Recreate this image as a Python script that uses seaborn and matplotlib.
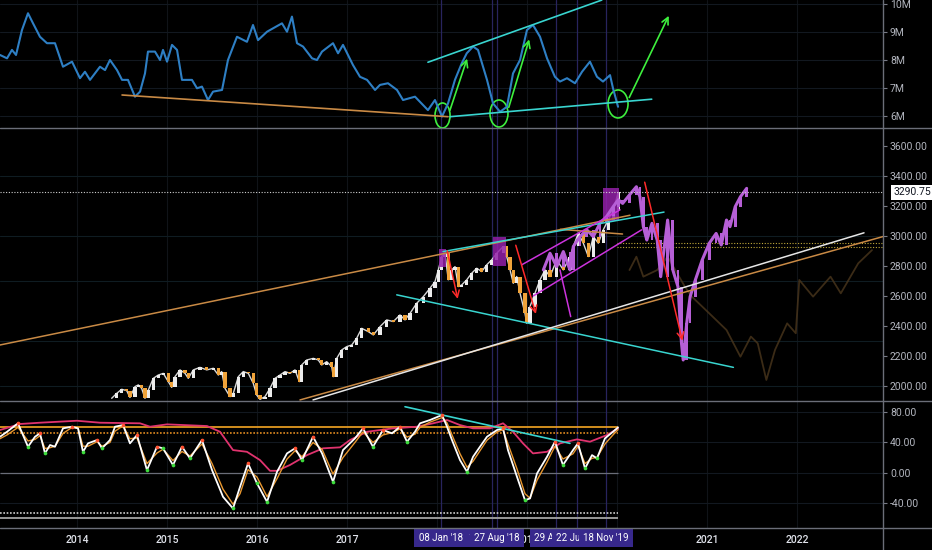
import numpy as np
import matplotlib
matplotlib.use("Agg")
import matplotlib.pyplot as plt
from matplotlib.lines import Line2D
from matplotlib.patches import Ellipse, Rectangle
import seaborn as sns

# ---------------- values ----------------
# top pane: blue line (millions)
vol_years = [2013.144, 2013.222, 2013.277, 2013.322, 2013.388, 2013.455, 2013.511, 2013.588, 2013.666, 2013.755,
             2013.844, 2013.944, 2014.033, 2014.088, 2014.144, 2014.255, 2014.311, 2014.366, 2014.444, 2014.500,
             2014.566, 2014.644, 2014.700, 2014.755, 2014.788, 2014.866, 2014.922, 2014.955, 2015.000, 2015.055,
             2015.111, 2015.166, 2015.277, 2015.333, 2015.388, 2015.455, 2015.511, 2015.611, 2015.677, 2015.777,
             2015.888, 2015.955, 2016.011, 2016.111, 2016.177, 2016.277, 2016.333, 2016.388, 2016.444, 2016.511,
             2016.611, 2016.666, 2016.722, 2016.844, 2016.900, 2016.955, 2017.066, 2017.144, 2017.222, 2017.311,
             2017.366, 2017.455, 2017.555, 2017.622, 2017.755, 2017.899, 2017.977, 2018.055, 2018.122, 2018.199,
             2018.274, 2018.330, 2018.400, 2018.455, 2018.555, 2018.622, 2018.700, 2018.777, 2018.844, 2018.922,
             2018.999, 2019.066, 2019.144, 2019.222, 2019.310, 2019.366, 2019.444, 2019.533, 2019.611, 2019.699,
             2019.777, 2019.844, 2019.922, 2019.955, 2020.011]
vol_values = [8.18, 8.06, 8.36, 8.18, 9.07, 9.67, 9.31, 8.83, 8.6, 8.6,
              7.76, 7.94, 7.35, 7.58, 7.29, 7.76, 7.64, 8.0, 7.64, 7.29,
              7.29, 6.69, 6.87, 7.52, 8.3, 8.3, 8.0, 8.36, 7.94, 8.54,
              8.36, 7.29, 7.29, 6.99, 7.05, 6.57, 6.87, 6.93, 8.0, 8.83,
              8.65, 9.25, 8.71, 9.01, 9.13, 9.31, 9.01, 9.55, 8.6, 8.48,
              8.06, 8.0, 8.3, 8.6, 8.24, 8.54, 7.82, 7.4, 7.29, 6.93,
              7.11, 7.17, 6.93, 6.57, 6.69, 6.21, 6.57, 5.98, 6.45, 7.29,
              7.88, 8.24, 8.48, 8.36, 7.29, 6.45, 6.15, 6.33, 7.52, 8.0,
              9.07, 9.25, 8.83, 8.06, 7.4, 7.23, 7.35, 7.17, 7.58, 7.94,
              7.4, 7.23, 7.46, 6.99, 6.33]
vol_ticks = [6, 7, 8, 9, 10]

# middle pane: candle closes
price_years = [2014.385, 2014.441, 2014.496, 2014.552, 2014.588, 2014.644, 2014.681, 2014.718, 2014.755, 2014.792,
               2014.847, 2014.903, 2014.958, 2015.014, 2015.052, 2015.088, 2015.144, 2015.200, 2015.236, 2015.292,
               2015.366, 2015.441, 2015.514, 2015.570, 2015.607, 2015.644, 2015.700, 2015.736, 2015.792, 2015.847,
               2015.903, 2015.958, 2015.996, 2016.033, 2016.088, 2016.144, 2016.200, 2016.255, 2016.311, 2016.366,
               2016.422, 2016.470, 2016.496, 2016.552, 2016.625, 2016.681, 2016.718, 2016.774, 2016.830, 2016.847,
               2016.885, 2016.941, 2016.996, 2017.052, 2017.107, 2017.163, 2017.236, 2017.292, 2017.366, 2017.441,
               2017.514, 2017.588, 2017.644, 2017.700, 2017.774, 2017.847, 2017.922, 2017.977, 2018.014, 2018.052,
               2018.088, 2018.125, 2018.163, 2018.200, 2018.236, 2018.274, 2018.330, 2018.385, 2018.441, 2018.496,
               2018.552, 2018.607, 2018.663, 2018.736, 2018.774, 2018.811, 2018.847, 2018.885, 2018.922, 2018.977,
               2018.996, 2019.033, 2019.088, 2019.144, 2019.200, 2019.255, 2019.330, 2019.403, 2019.477, 2019.514,
               2019.570, 2019.625, 2019.681, 2019.736, 2019.792, 2019.847, 2019.903, 2019.958, 2020.014]
price_close = [1918, 1951, 1978, 1969, 1924, 1996, 2007, 1984, 1918, 1973,
               2051, 2073, 2084, 2029, 1991, 2062, 2107, 2084, 2051, 2107,
               2124, 2107, 2118, 2073, 2096, 1984, 1929, 1951, 2062, 2096,
               2084, 2018, 1940, 1911, 1929, 1984, 2051, 2073, 2096, 2084,
               2107, 2029, 2140, 2173, 2184, 2173, 2140, 2162, 2129, 2062,
               2184, 2240, 2262, 2273, 2318, 2384, 2362, 2340, 2395, 2440,
               2429, 2473, 2440, 2484, 2551, 2595, 2651, 2695, 2773, 2862,
               2884, 2707, 2773, 2795, 2662, 2673, 2707, 2751, 2784, 2762,
               2807, 2840, 2884, 2929, 2862, 2773, 2684, 2729, 2618, 2484,
               2418, 2529, 2618, 2707, 2773, 2729, 2840, 2773, 2862, 2929,
               3018, 2951, 2862, 2995, 2951, 3040, 3107, 3173, 3291]
last_price = 3290.75
price_ticks = [2000, 2200, 2400, 2600, 2800, 3000, 3200, 3400, 3600]

# purple projected path
proj_years = [2019.181, 2019.255, 2019.330, 2019.403, 2019.477, 2019.514, 2019.588, 2019.663, 2019.736, 2019.811,
              2019.885, 2019.958, 2020.014, 2020.062, 2020.138, 2020.215, 2020.254, 2020.292, 2020.331, 2020.388,
              2020.446, 2020.485, 2020.562, 2020.620, 2020.677, 2020.716, 2020.735, 2020.774, 2020.812, 2020.870,
              2020.946, 2021.024, 2021.101, 2021.158, 2021.216, 2021.255, 2021.313, 2021.371, 2021.440]
proj_close = [2773, 2884, 2795, 2895, 2773, 2929, 2995, 3040, 2995, 3084,
              3129, 3195, 3240, 3216, 3272, 3327, 3260, 3061, 2972, 3083,
              2972, 2728, 3105, 2772, 2661, 2284, 2173, 2417, 2595, 2706,
              2839, 2950, 3016, 2939, 3105, 3061, 3194, 3260, 3316]

# faint orange ghost path
ghost_years = [2020.138, 2020.215, 2020.292, 2020.446, 2020.562, 2020.754, 2020.831, 2021.024, 2021.216, 2021.371,
               2021.487, 2021.563, 2021.659, 2021.755, 2021.890, 2021.986, 2022.025, 2022.178, 2022.372, 2022.486,
               2022.680, 2022.833]
ghost_close = [2772, 2861, 2728, 2772, 2861, 2661, 2595, 2484, 2373, 2195,
               2329, 2284, 2040, 2240, 2417, 2351, 2706, 2595, 2728, 2617,
               2817, 2905]

# bottom pane: oscillator
osc_years = [2013.144, 2013.222, 2013.344, 2013.455, 2013.533, 2013.588, 2013.644, 2013.700, 2013.755, 2013.844,
             2013.944, 2014.011, 2014.066, 2014.122, 2014.222, 2014.277, 2014.366, 2014.422, 2014.511, 2014.588,
             2014.666, 2014.777, 2014.888, 2014.955, 2015.066, 2015.166, 2015.255, 2015.388, 2015.500, 2015.622,
             2015.733, 2015.811, 2015.900, 2016.000, 2016.111, 2016.222, 2016.333, 2016.422, 2016.500, 2016.622,
             2016.722, 2016.844, 2016.955, 2017.088, 2017.177, 2017.288, 2017.400, 2017.500, 2017.588, 2017.666,
             2017.755, 2017.811, 2017.922, 2018.055, 2018.111, 2018.166, 2018.255, 2018.333, 2018.400, 2018.477,
             2018.555, 2018.666, 2018.733, 2018.788, 2018.888, 2018.977, 2019.033, 2019.111, 2019.222, 2019.310,
             2019.399, 2019.511, 2019.566, 2019.644, 2019.722, 2019.777, 2019.866, 2019.955, 2020.011]
osc_fast = [47.6, 54.2, 65.4, 34.3, 47.6, 52.1, 25.5, 36.6, 34.3, 58.7,
            60.9, 58.7, 27.6, 38.8, 43.2, 32.2, 43.2, 60.9, 63.1, 38.8,
            49.8, 3.3, 34.3, 32.2, 10.1, 34.3, 18.9, 43.2, 3.3, -32.1,
            -47.6, -18.9, 12.2, -14.4, -38.8, 1.1, 25.5, 32.2, 16.6, 47.6,
            25.5, -12.2, 29.9, 45.4, 58.7, 34.3, 56.5, 52.1, 60.9, 41.0,
            54.2, 65.4, 69.8, 76.4, 60.9, 43.2, 16.6, 1.1, 21.0, 34.3,
            47.6, 56.5, 58.7, 29.9, -5.5, -36.6, -34.3, -1.1, 21.0, 41.0,
            10.1, 29.9, 38.8, 5.5, 23.2, 18.9, 45.4, 54.2, 60.0]
osc_slow = [45, 50, 60, 42, 44, 49, 32, 33, 35, 52,
            60, 59, 35, 35, 41, 35, 40, 55, 62, 45,
            46, 12, 26, 31, 16, 28, 22, 38, 12, -22,
            -42, -28, 4, -6, -32, -8, 18, 29, 21, 40,
            31, -2, 20, 40, 54, 40, 50, 53, 58, 47,
            51, 60, 67, 73, 66, 50, 25, 7, 15, 29,
            43, 54, 57, 38, 5, -28, -34, -10, 14, 35,
            18, 25, 35, 12, 19, 20, 38, 50, 57]
ma_years = [2013.144, 2013.366, 2013.588, 2013.999, 2014.255, 2014.700, 2014.811, 2015.000, 2015.444, 2015.588,
            2015.733, 2015.888, 2016.033, 2016.144, 2016.222, 2016.366, 2016.555, 2016.733, 2016.922, 2017.033,
            2017.222, 2017.511, 2017.777, 2017.955, 2018.111, 2018.255, 2018.400, 2018.588, 2018.733, 2018.844,
            2018.955, 2019.066, 2019.222, 2019.366, 2019.555, 2019.699, 2019.888, 2020.011]
ma_values = [56.5, 64.5, 66.2, 68.8, 66.2, 65.4, 60.9, 64.0, 61.8, 54.2,
             29.9, 27.6, 16.6, 2.4, 2.4, 10.1, 23.2, 32.2, 33.5, 43.2,
             54.2, 58.7, 60.9, 65.4, 69.8, 63.1, 58.7, 58.7, 65.4, 54.2,
             38.8, 25.5, 27.6, 38.8, 44.1, 41.0, 49.8, 58.7]
low_dots = [3, 6, 12, 15, 21, 23, 24, 26, 30, 33, 34, 38, 41, 45, 49, 57, 65, 70, 73, 75]
high_dots = [2, 5, 10, 14, 18, 20, 22, 25, 27, 32, 37, 39, 44, 46, 48, 53, 62, 69, 72]
osc_ticks = [-40, 0, 40, 80]

# marked dates
mark_years = [2018.041, 2018.607, 2018.663, 2019.322, 2019.552, 2019.877]
mark_labels = ["08 Jan '18", "13 Aug '18", "27 Aug '18", "29 Apr '19", "22 Jul '19", "18 Nov '19"]
year_ticks = [2014, 2015, 2016, 2017, 2018, 2019, 2020, 2021, 2022]

# drawn lines: ((year0, value0), (year1, value1))
top_lines = {"#c98a45": [((2014.500, 6.75), (2018.122, 5.975))],
             "#39d5d0": [((2018.144, 5.975), (2020.385, 6.6)), ((2017.899, 7.92), (2019.830, 10.14))]}
top_arrows = [((2018.133, 6.107), (2018.344, 8.143)),
              ((2018.788, 6.214), (2019.033, 8.83)),
              ((2020.122, 6.571), (2020.588, 9.668))]
top_circles = [(2018.061, 6.018, 0.167, 0.893), (2018.688, 6.089, 0.2, 0.964), (2020.011, 6.43, 0.222, 1.0)]

mid_lines = {"#c98a45": [((2013.144, 2273), (2020.144, 3137)), ((2016.477, 1907), (2022.955, 2995)),
                         ((2019.368, 3043), (2020.061, 3012))],
             "#39d5d0": [((2018.066, 2895), (2020.522, 3158)), ((2017.552, 2607), (2021.293, 2124))],
             "#e6e6e6": [((2016.622, 1907), (2022.744, 3020))],
             "#cc33dd": [((2018.941, 2807), (2020.033, 3173)), ((2019.070, 2600), (2020.273, 3040)),
                         ((2019.366, 2773), (2019.485, 2462))]}
mid_boxes = [(2018.022, 2018.100, 2795, 2913), (2018.618, 2018.766, 2800, 2991), (2019.844, 2020.022, 3100, 3318)]
mid_arrows = [((2018.107, 2918), (2018.236, 2562)),
              ((2018.866, 2955), (2019.107, 2462)),
              ((2020.300, 3375), (2020.733, 2284))]
mid_levels = [2954, 2923]
osc_trend = ((2017.644, 87.4), (2019.477, 38.8))

# ---------------- drawing ----------------
sns.set_theme(style="dark", rc={"axes.facecolor": "black", "figure.facecolor": "black"})
plt.rcParams["font.family"] = ["Roboto", "DejaVu Sans"]

W, H = 932, 550
X0, X1 = 2013.144, 2022.955
fig = plt.figure(figsize=(W / 100, H / 100), dpi=100)


def panel(top, bottom):
    return fig.add_axes([0, 1 - bottom / H, 883 / W, (bottom - top) / H])


ax1 = panel(0, 127.7)
ax2 = panel(127.7, 400.7)
ax3 = panel(400.7, 528.3)

for ax in (ax1, ax2, ax3):
    ax.set_facecolor("black")
    for s in ax.spines.values():
        s.set_visible(False)
    for y in year_ticks:
        ax.axvline(y, color="#101318", lw=0.8, zorder=0)
    for d in mark_years:
        ax.axvline(d, color="#28245e", lw=0.9, zorder=0.5)

# top pane
for v in vol_ticks:
    ax1.axhline(v, color="#121820", lw=0.8, zorder=0)
sns.lineplot(x=vol_years, y=vol_values, ax=ax1, color="#2e7fc4", linewidth=1.5)
for col, segs in top_lines.items():
    for (a, b) in segs:
        ax1.plot([a[0], b[0]], [a[1], b[1]], color=col, lw=1.2)
for (a, b) in top_arrows:
    ax1.annotate("", xy=b, xytext=a, arrowprops=dict(arrowstyle="->", color="#3ef03e", lw=1.2,
                                                      mutation_scale=12))
for (cx, cy, w, h) in top_circles:
    ax1.add_patch(Ellipse((cx, cy), w, h, fill=False, ec="#3ef03e", lw=1.2))
ax1.set_ylim(5.582, 10.143)
ax1.set_yticks(vol_ticks)
ax1.set_yticklabels([f"{v}M" for v in vol_ticks])

# middle pane
for p in [2000, 2300, 2700, 3000, 3400]:
    ax2.axhline(p, color="#0f1c22", lw=0.8, zorder=0)
opens = np.r_[price_close[0], price_close[:-1]]
closes = np.array(price_close)
colors = ["#ececec" if c >= o else "#f0a33a" for o, c in zip(opens, closes)]
sns.lineplot(x=price_years, y=price_close, ax=ax2, color="#d8d8d8", linewidth=1.0, zorder=2.5)
ax2.bar(price_years, closes - opens, bottom=opens, width=0.038, color=colors, edgecolor="none",
        linewidth=0, zorder=3)

ax2.plot(ghost_years, ghost_close, color="#4a361c", lw=1.3, alpha=0.8, zorder=2)
p_open = np.r_[proj_close[0], proj_close[:-1]]
sns.lineplot(x=proj_years, y=proj_close, ax=ax2, color="#b65fd6", linewidth=2.2, zorder=4)
ax2.bar(proj_years, np.array(proj_close) - p_open, bottom=p_open, width=0.03, color="#b65fd6",
        edgecolor="none", linewidth=0, zorder=4)

for (x0, x1, y0, y1) in mid_boxes:
    ax2.add_patch(Rectangle((x0, y0), x1 - x0, y1 - y0, color="#9320a8", alpha=0.85, zorder=3.5, lw=0))
for col, segs in mid_lines.items():
    for (a, b) in segs:
        ax2.plot([a[0], b[0]], [a[1], b[1]], color=col, lw=1.1, zorder=5)
for (a, b) in mid_arrows:
    ax2.annotate("", xy=b, xytext=a, arrowprops=dict(arrowstyle="->", color="#ff2a2a", lw=1.1,
                                                      mutation_scale=12), zorder=6)
ax2.axhline(last_price, color="#d0d0d0", lw=0.8, ls=(0, (1, 1.5)), zorder=5)
ax2.hlines(mid_levels, 2020.0, X1, colors="#bfa83a", lw=0.8, linestyles=(0, (1, 1.5)), zorder=2)
ax2.set_ylim(1902, 3720)
ax2.set_yticks(price_ticks)
ax2.set_yticklabels([f"{p:.2f}" for p in price_ticks])
ax2.text(894 / 883, last_price, f"{last_price:.2f}", transform=ax2.get_yaxis_transform(),
         ha="left", va="center", fontsize=7.5, color="#131722", clip_on=False, zorder=10,
         bbox=dict(boxstyle="square,pad=0.25", fc="white", ec="none"))

# bottom pane
for v in osc_ticks:
    ax3.axhline(v, color="#121820", lw=0.8, zorder=0)
end = osc_years[-1]
ax3.hlines(60, X0, end, color="#f5a623", lw=1.2)
ax3.hlines(53, X0, end, color="#e08a20", lw=1.2, linestyles=(0, (1, 1)))
ax3.hlines(0, X0, end, color="#6a6d78", lw=0.9)
ax3.hlines(-53, X0, end, color="#cfcfcf", lw=1.2, linestyles=(0, (1, 1)))
ax3.hlines(-60, X0, end, color="#9a9a9a", lw=1.4)
sns.lineplot(x=ma_years, y=ma_values, ax=ax3, color="#e0336e", linewidth=1.3)
sns.lineplot(x=osc_years, y=osc_slow, ax=ax3, color="#e8972f", linewidth=1.0)
sns.lineplot(x=osc_years, y=osc_fast, ax=ax3, color="white", linewidth=1.3)
ax3.scatter([osc_years[i] for i in low_dots], [osc_fast[i] for i in low_dots], s=7, color="#3ddc3d", zorder=5, lw=0)
ax3.scatter([osc_years[i] for i in high_dots], [osc_fast[i] for i in high_dots], s=7, color="#ff5030", zorder=5, lw=0)
ax3.plot([osc_trend[0][0], osc_trend[1][0]], [osc_trend[0][1], osc_trend[1][1]], color="#39d5d0", lw=1.2)
ax3.set_ylim(-73.9, 95.4)
ax3.set_yticks(osc_ticks)
ax3.set_yticklabels([f"{v:.2f}" for v in osc_ticks])

for ax in (ax1, ax2, ax3):
    ax.set_xlim(X0, X1)
    ax.set_xlabel("")
    ax.set_ylabel("")
    ax.grid(False)
    ax.yaxis.tick_right()
    ax.tick_params(axis="y", color="#787b86", labelcolor="#b2b5be", labelsize=7.5, length=3, width=0.8, pad=2,
                   right=True, left=False)
ax1.set_xticks([])
ax2.set_xticks([])
ax3.set_xticks(year_ticks)
ax3.set_xticklabels([str(y) for y in year_ticks])
ax3.tick_params(axis="x", length=0, pad=5, labelsize=7.5, labelcolor="#e0e3eb", bottom=True)
for t in ax3.get_xticklabels():
    t.set_fontweight("medium")

for d, lab in zip(mark_years, mark_labels):
    ax3.text(d, -0.076, lab, transform=ax3.get_xaxis_transform(), ha="center", va="center",
             fontsize=7, color="white", clip_on=False, zorder=10,
             bbox=dict(boxstyle="square,pad=0.45", fc="#37288c", ec="none"))

# pane separators
for y in (127.7, 400.7, 528.3):
    fig.add_artist(Line2D([0, 1], [1 - y / H, 1 - y / H], transform=fig.transFigure, color="#6b6e78", lw=1))
fig.add_artist(Line2D([883 / W, 883 / W], [0, 1], transform=fig.transFigure, color="#6b6e78", lw=1))

fig.savefig("out.png", dpi=100, facecolor="black")
